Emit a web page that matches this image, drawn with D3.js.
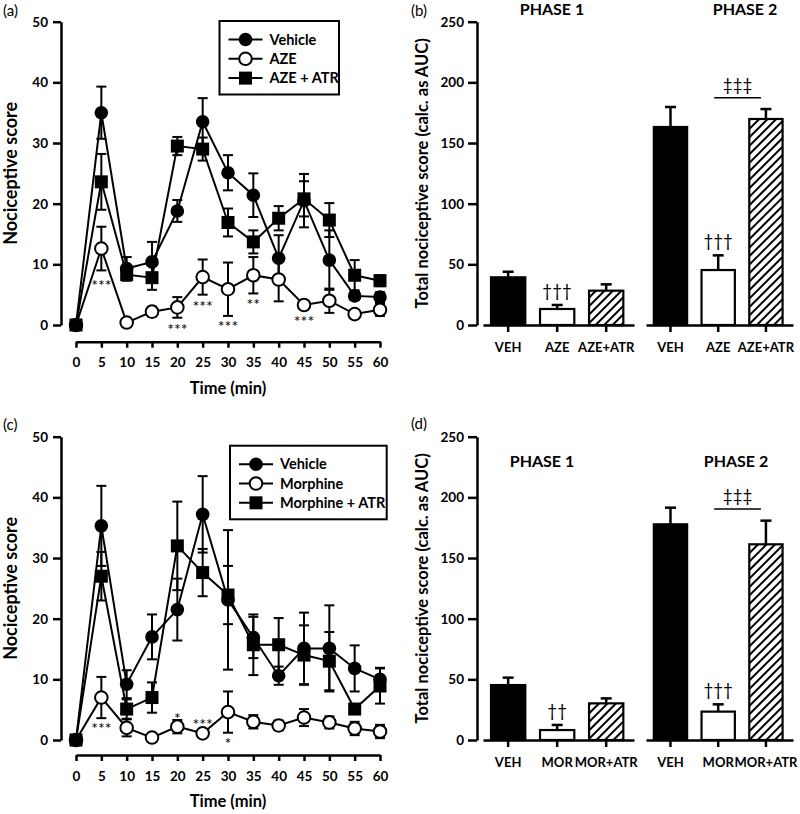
<!DOCTYPE html>
<html><head><meta charset="utf-8">
<script src="https://cdn.jsdelivr.net/npm/d3@7"></script>
<style>
body{margin:0;background:#fff}
text{font-family:Lato,"Open Sans",sans-serif}
</style>
</head><body>
<svg id="chart" width="800" height="814"></svg>
<script>
// ---------------- DATA ----------------
const times = [0,5,10,15,20,25,30,35,40,45,50,55,60];
const yTicksLine = [0,10,20,30,40,50];
const yTicksBar = [0,50,100,150,200,250];

// Panel (a)
const aVehicle    = [0,35.0,9.3,10.4,18.8,33.5,25.1,21.4,11.0,20.5,10.7,4.8,4.6];
const aVehicleErr = [0,4.3,1.9,3.3,1.8,3.9,2.9,3.6,3.8,4.4,4.9,0.7,0.8];
const aAZE        = [0,12.6,0.4,2.2,2.9,7.9,5.9,8.2,7.5,3.3,4.0,1.8,2.5];
const aAZEErr     = [0,3.6,0.3,0.8,1.7,2.9,4.4,3.0,3.6,0.5,2.0,0.6,1.0];
const aATR        = [0,23.6,8.3,7.8,29.5,29.0,16.9,13.7,17.6,20.8,17.3,8.2,7.3];
const aATRErr     = [0,4.6,1.0,2.0,1.5,1.9,2.3,1.9,2.0,2.9,2.8,2.5,0.9];
const aLegend     = ["Vehicle","AZE","AZE + ATR"];
const aStarTimes  = [5,20,25,30,35,45];
const aStarLabels = ["***","***","***","***","**","***"];
const aStarValues = [7.1,-0.1,3.7,0.3,4.0,1.2];

// Panel (c)
const cVehicle    = [0,35.3,9.2,17.0,21.5,37.2,23.1,16.9,10.6,15.1,15.1,11.8,10.0];
const cVehicleErr = [0,6.6,2.3,3.7,5.1,6.3,11.5,3.4,1.5,5.9,7.1,3.8,1.9];
const cMor        = [0,7.0,2.0,0.4,2.2,1.1,4.6,3.0,2.4,3.7,2.9,1.9,1.4];
const cMorErr     = [0,3.4,1.4,0.3,1.1,0.5,3.4,1.1,0.8,1.4,1.0,1.1,1.1];
const cATR        = [0,27.0,5.1,7.0,32.0,27.6,23.9,15.7,15.7,14.0,13.0,5.1,8.9];
const cATRErr     = [0,4.0,1.6,2.5,7.3,3.9,4.8,5.0,4.4,4.9,4.8,0.7,2.9];
const cLegend     = ["Vehicle","Morphine","Morphine + ATR"];
const cStarTimes  = [5,20,25,30];
const cStarLabels = ["***","*","***","*"];
const cStarValues = [2.4,4.2,3.2,0.0];

// Panel (b)
const bCategories = ["VEH","AZE","AZE+ATR"];
const bPhase1     = [39.3,13.2,28.3];
const bPhase1Err  = [4.6,3.3,5.2];
const bPhase1Sig  = ["","†††",""];
const bPhase2     = [163.2,45.3,169.8];
const bPhase2Err  = [16.5,12.1,8.2];
const bPhase2Sig  = ["","†††",""];
const bBracket    = {from:"AZE", to:"AZE+ATR", value:187.3, label:"‡‡‡"};

// Panel (d)
const dCategories = ["VEH","MOR","MOR+ATR"];
const dPhase1     = [45.3,8.2,30.2];
const dPhase1Err  = [6.1,4.2,4.1];
const dPhase1Sig  = ["","††",""];
const dPhase2     = [177.8,23.4,161.3];
const dPhase2Err  = [13.7,6.0,19.5];
const dPhase2Sig  = ["","†††",""];
const dBracket    = {from:"MOR", to:"MOR+ATR", value:190.4, label:"‡‡‡"};

const phaseTitles = ["PHASE 1","PHASE 2"];

// ---------------- DRAWING ----------------
const svg = d3.select("#chart");
const defs = svg.append("defs");
const pat = defs.append("pattern").attr("id","hatch").attr("patternUnits","userSpaceOnUse")
  .attr("width",6).attr("height",6).attr("patternTransform","rotate(45)");
pat.append("rect").attr("width",6).attr("height",6).attr("fill","#fff");
pat.append("line").attr("x1",3).attr("y1",0).attr("x2",3).attr("y2",6).attr("stroke","#000").attr("stroke-width",2);

function styleAxis(sel, fs){
  sel.select(".domain").attr("stroke","#000").attr("stroke-width",2.5);
  sel.selectAll(".tick line").attr("stroke","#000").attr("stroke-width",2.5);
  sel.selectAll(".tick text").attr("fill","#000").attr("font-size",fs).attr("font-weight","bold")
     .attr("font-family","Lato, sans-serif");
}

function panelLetter(x,y,t){
  svg.append("text").attr("x",x).attr("y",y).attr("font-size",15).text(t);
}

const xLine = d3.scaleLinear().domain([0,60]).range([76,380]);

function linePanel(cfg){
  const g = svg.append("g");
  const y = d3.scaleLinear().domain([0,50]).range([cfg.y0, cfg.y0-303.3]);
  const ya = g.append("g").attr("transform","translate(61,0)")
    .call(d3.axisLeft(y).tickValues(yTicksLine).tickSize(8).tickSizeOuter(0).tickPadding(5));
  styleAxis(ya,13.5);
  const xa = g.append("g").attr("transform",`translate(0,${cfg.xAxisY})`)
    .call(d3.axisBottom(xLine).tickValues(times).tickSize(6).tickSizeOuter(0).tickPadding(10));
  styleAxis(xa,13.5);

  g.append("text").attr("transform",`translate(17,${(cfg.y0*2-303.3)/2}) rotate(-90)`)
    .attr("text-anchor","middle").attr("font-size",18).attr("font-weight","bold").text("Nociceptive score");
  g.append("text").attr("x",228).attr("y",cfg.xAxisY+52).attr("text-anchor","middle")
    .attr("font-size",16.5).attr("font-weight","bold").text("Time (min)");

  const series = cfg.series.map(s=>({...s, pts: times.map((t,i)=>({t, v:s.values[i], e:s.err[i]}))}));
  const line = d3.line().x(d=>xLine(d.t)).y(d=>y(d.v));
  series.forEach(s=>{
    g.append("path").datum(s.pts).attr("d",line).attr("fill","none").attr("stroke","#000").attr("stroke-width",2);
  });
  series.forEach(s=>{
    s.pts.filter(d=>d.e>0).forEach(d=>{
      const x = xLine(d.t);
      g.append("line").attr("x1",x).attr("x2",x).attr("y1",y(d.v-d.e)).attr("y2",y(d.v+d.e)).attr("stroke","#000").attr("stroke-width",2);
      [d.v-d.e, d.v+d.e].forEach(v=>{
        g.append("line").attr("x1",x-5).attr("x2",x+5).attr("y1",y(v)).attr("y2",y(v)).attr("stroke","#000").attr("stroke-width",2);
      });
    });
  });
  function marker(sel, type, cx, cy){
    if(type==="square"){
      sel.append("rect").attr("x",cx-6.5).attr("y",cy-6.5).attr("width",13).attr("height",13).attr("fill","#000");
    } else {
      sel.append("circle").attr("cx",cx).attr("cy",cy).attr("r",type==="open"?6.3:6.8)
        .attr("fill",type==="open"?"#fff":"#000").attr("stroke","#000").attr("stroke-width",type==="open"?2:0);
    }
  }
  series.forEach(s=>{
    s.pts.forEach(d=>marker(g, s.type, xLine(d.t), y(d.v)));
  });

  // stars
  cfg.stars.t.forEach((t,i)=>{
    g.append("text").attr("x",xLine(t)).attr("y",y(cfg.stars.v[i])+9).attr("text-anchor","middle")
      .attr("font-size",16).attr("fill","#000").attr("font-family","Liberation Sans, sans-serif").text(cfg.stars.l[i]);
  });

  // legend
  const L = cfg.legend;
  g.append("rect").attr("x",L.x).attr("y",L.y).attr("width",L.w).attr("height",L.h)
    .attr("fill","#fff").attr("stroke","#000").attr("stroke-width",2);
  series.forEach((s,i)=>{
    const yy = L.y + 18.5 + i*19.3;
    g.append("line").attr("x1",L.x+9).attr("x2",L.x+43).attr("y1",yy).attr("y2",yy).attr("stroke","#000").attr("stroke-width",2);
    marker(g, s.type, L.x+26, yy);
    g.append("text").attr("x",L.x+50).attr("y",yy+5).attr("font-size",14.5).attr("font-weight","bold").text(cfg.names[i]);
  });
}

function barPanel(cfg){
  const g = svg.append("g");
  const y = d3.scaleLinear().domain([0,250]).range([cfg.y0, cfg.y0-303.3]);
  const ya = g.append("g").attr("transform","translate(477,0)")
    .call(d3.axisLeft(y).tickValues(yTicksBar).tickSize(9).tickSizeOuter(0).tickPadding(4));
  styleAxis(ya,13.5);
  g.append("text").attr("transform",`translate(428,${(cfg.y0*2-303.3)/2}) rotate(-90)`)
    .attr("text-anchor","middle").attr("font-size",16.5).attr("font-weight","bold")
    .text("Total nociceptive score (calc. as AUC)");

  const fills = ["#000","#fff","url(#hatch)"];
  cfg.phases.forEach((p,pi)=>{
    const x = d3.scaleBand().domain(cfg.cats).range(p.range).paddingInner(0.26).paddingOuter(0.17).align(0.42);
    const xa = g.append("g").attr("transform",`translate(0,${cfg.y0})`)
      .call(d3.axisBottom(x).tickSize(7).tickSizeOuter(0).tickPadding(11));
    styleAxis(xa,13);
    cfg.cats.forEach((c,i)=>{
      const v = p.vals[i], e = p.errs[i];
      const cx = x(c)+x.bandwidth()/2;
      g.append("line").attr("x1",cx).attr("x2",cx).attr("y1",y(v)).attr("y2",y(v+e)).attr("stroke","#000").attr("stroke-width",2.5);
      g.append("line").attr("x1",cx-5.5).attr("x2",cx+5.5).attr("y1",y(v+e)).attr("y2",y(v+e)).attr("stroke","#000").attr("stroke-width",2.5);
      g.append("rect").attr("x",x(c)+1).attr("y",y(v)).attr("width",x.bandwidth()-2).attr("height",cfg.y0-y(v))
        .attr("fill",fills[i]).attr("stroke","#000").attr("stroke-width",2.2);
      if(p.sig[i]){
        g.append("text").attr("x",cx).attr("y",y(v+e)-8).attr("text-anchor","middle")
          .attr("font-size",17).attr("fill","#000").attr("font-family","DejaVu Sans, sans-serif").text(p.sig[i]);
      }
    });
    g.append("text").attr("x",p.titleX).attr("y",cfg.titleY).attr("text-anchor","middle")
      .attr("font-size",16).attr("font-weight","bold").text(phaseTitles[pi]);
    if(p.bracket){
      const b = p.bracket;
      const x1 = x(b.from)+x.bandwidth()/2-4, x2 = x(b.to)+x.bandwidth()/2-5;
      g.append("line").attr("x1",x1).attr("x2",x2).attr("y1",y(b.value)).attr("y2",y(b.value)).attr("stroke","#000").attr("stroke-width",1.5);
      g.append("text").attr("x",(x1+x2)/2).attr("y",y(b.value)-7).attr("text-anchor","middle")
        .attr("font-size",17).attr("fill","#000").attr("font-family","DejaVu Sans, sans-serif").text(b.label);
    }
  });
}

// Panel (a)
panelLetter(3,16,"(a)");
linePanel({
  y0:325, xAxisY:341.7,
  series:[
    {values:aVehicle, err:aVehicleErr, type:"filled"},
    {values:aAZE, err:aAZEErr, type:"open"},
    {values:aATR, err:aATRErr, type:"square"}
  ],
  names:aLegend,
  stars:{t:aStarTimes, l:aStarLabels, v:aStarValues},
  legend:{x:219.5, y:21, w:119.5, h:73.5}
});

// Panel (c)
panelLetter(3,430,"(c)");
linePanel({
  y0:740, xAxisY:755,
  series:[
    {values:cVehicle, err:cVehicleErr, type:"filled"},
    {values:cMor, err:cMorErr, type:"open"},
    {values:cATR, err:cATRErr, type:"square"}
  ],
  names:cLegend,
  stars:{t:cStarTimes, l:cStarLabels, v:cStarValues},
  legend:{x:230, y:445.7, w:156.7, h:73.6}
});

// Panel (b)
panelLetter(411,16,"(b)");
barPanel({
  y0:325, titleY:15, cats:bCategories,
  phases:[
    {range:[483,634], vals:bPhase1, errs:bPhase1Err, sig:bPhase1Sig, titleX:552},
    {range:[646,793], vals:bPhase2, errs:bPhase2Err, sig:bPhase2Sig, titleX:745, bracket:bBracket}
  ]
});

// Panel (d)
panelLetter(411,429,"(d)");
barPanel({
  y0:740, titleY:467, cats:dCategories,
  phases:[
    {range:[483,634], vals:dPhase1, errs:dPhase1Err, sig:dPhase1Sig, titleX:542},
    {range:[646,793], vals:dPhase2, errs:dPhase2Err, sig:dPhase2Sig, titleX:736, bracket:dBracket}
  ]
});
</script>
</body></html>
